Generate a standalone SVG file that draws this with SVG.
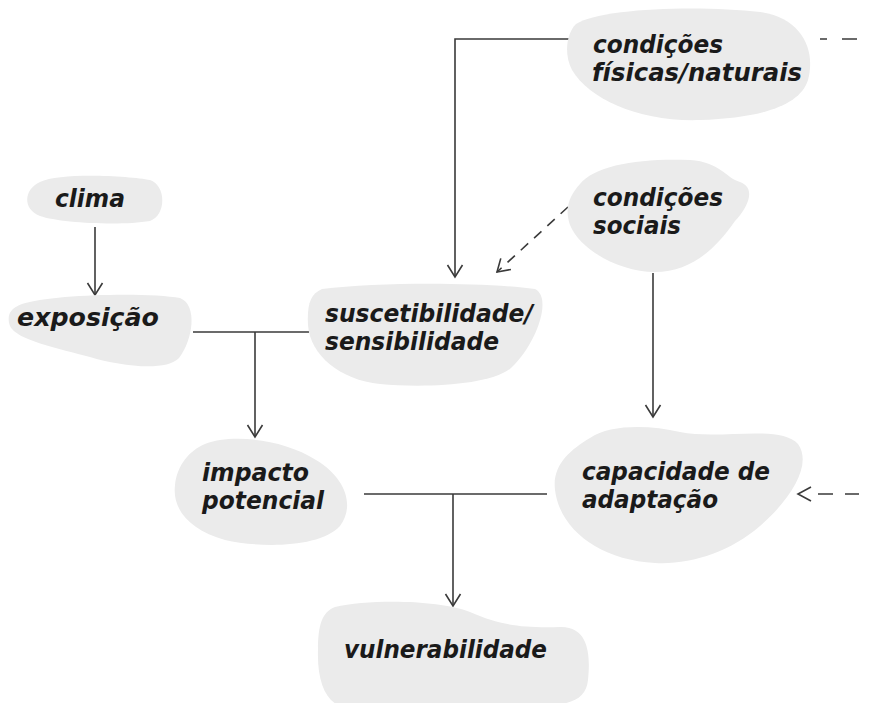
<svg xmlns="http://www.w3.org/2000/svg" width="869" height="703" viewBox="0 0 869 703">
<defs>
<style>
.blob{fill:#ebebeb;stroke:none}
.lbl{font-family:"DejaVu Sans","Verdana",sans-serif;font-weight:bold;font-style:italic;font-size:24.5px;fill:#1a1a1a}
.ln{fill:none;stroke:#3a3a3a;stroke-width:1.6}
.dash{stroke-dasharray:10 8}
.head{fill:none;stroke:#3a3a3a;stroke-width:1.6;stroke-dasharray:none}
</style>
<marker id="arr" markerUnits="userSpaceOnUse" markerWidth="30" markerHeight="30" refX="0" refY="0" viewBox="-15 -15 30 30" orient="auto">
<path class="head" d="M-12,-7.5 L0,0 L-12,7.5"/>
</marker>
</defs>
<rect width="869" height="703" fill="#ffffff"/>

<g id="connectors">
<line class="ln" x1="95" y1="227" x2="95" y2="295" marker-end="url(#arr)"/>
<line class="ln" x1="193" y1="332" x2="309" y2="332"/>
<line class="ln" x1="255" y1="332" x2="255" y2="437" marker-end="url(#arr)"/>
<polyline class="ln" points="569,39 455,39 455,277" marker-end="url(#arr)"/>
<line class="ln dash" x1="568" y1="207" x2="497" y2="272" marker-end="url(#arr)"/>
<path class="ln" d="M820,39 H827 M842,39 H857"/>
<line class="ln" x1="653" y1="273" x2="653" y2="417" marker-end="url(#arr)"/>
<line class="ln" x1="364" y1="494" x2="547" y2="494"/>
<line class="ln" x1="453" y1="494" x2="453" y2="606" marker-end="url(#arr)"/>
<path class="ln" d="M859,494 H845 M833,494 H818"/>
<path class="head" d="M811,487 L798,494 L811,501"/>
</g>

<g id="clima">
<path class="blob" d="M40,182 C60,172 130,176 150,180 C166,185 167,215 150,221 C120,226 60,223 40,216 C22,209 24,189 40,182 Z"/>
<text class="lbl" x="55" y="207" textLength="70" lengthAdjust="spacingAndGlyphs">clima</text>
</g>

<g id="exposicao">
<path class="blob" d="M22,304 C50,294 150,292 180,298 C198,305 193,340 179,358 C166,372 120,366 90,357 C60,349 16,340 10,326 C6,313 12,308 22,304 Z"/>
<text class="lbl" x="17" y="326" textLength="142" lengthAdjust="spacingAndGlyphs">exposição</text>
</g>

<g id="suscetibilidade">
<path class="blob" d="M322,289 C380,282 480,282 535,289 C553,298 536,345 511,368 C490,386 420,388 380,384 C340,380 310,355 308,325 C307,305 310,294 322,289 Z"/>
<text class="lbl" x="325" y="322" textLength="208" lengthAdjust="spacingAndGlyphs">suscetibilidade/</text>
<text class="lbl" x="325" y="350" textLength="174" lengthAdjust="spacingAndGlyphs">sensibilidade</text>
</g>

<g id="condicoes-fisicas">
<path class="blob" d="M576,24 C600,8 700,5 760,12 C802,18 816,50 808,80 C800,106 760,118 700,120 C640,122 590,100 572,70 C564,55 566,34 576,24 Z"/>
<text class="lbl" x="593" y="53" textLength="130" lengthAdjust="spacingAndGlyphs">condições</text>
<text class="lbl" x="592" y="81" textLength="210" lengthAdjust="spacingAndGlyphs">físicas/naturais</text>
</g>

<g id="condicoes-sociais">
<path class="blob" d="M580,184 C595,165 640,158 690,160 C720,162 726,178 740,182 C756,188 749,206 735,221 C715,250 690,272 655,272 C620,272 580,250 570,225 C564,208 570,195 580,184 Z"/>
<text class="lbl" x="593" y="206" textLength="130" lengthAdjust="spacingAndGlyphs">condições</text>
<text class="lbl" x="593" y="234" textLength="88" lengthAdjust="spacingAndGlyphs">sociais</text>
</g>

<g id="impacto">
<path class="blob" d="M205,444 C230,434 282,438 316,460 C346,478 355,506 340,526 C320,548 260,548 225,540 C190,530 172,510 175,485 C177,465 190,450 205,444 Z"/>
<text class="lbl" x="202" y="481" textLength="107" lengthAdjust="spacingAndGlyphs">impacto</text>
<text class="lbl" x="202" y="509" textLength="122" lengthAdjust="spacingAndGlyphs">potencial</text>
</g>

<g id="capacidade">
<path class="blob" d="M590,438 C610,424 650,425 680,432 C720,440 780,424 798,444 C813,465 790,500 760,526 C730,552 690,565 655,563 C600,560 560,530 555,490 C552,465 570,450 590,438 Z"/>
<text class="lbl" x="582" y="480" textLength="188" lengthAdjust="spacingAndGlyphs">capacidade de</text>
<text class="lbl" x="582" y="508" textLength="136" lengthAdjust="spacingAndGlyphs">adaptação</text>
</g>

<g id="vulnerabilidade">
<path class="blob" d="M335,607 C370,599 440,600 470,612 C500,625 520,628 560,627 C591,626 590,660 588,680 C586,700 570,705 540,706 L340,706 C325,700 317,680 318,650 C318,625 322,612 335,607 Z"/>
<text class="lbl" x="344" y="658" textLength="203" lengthAdjust="spacingAndGlyphs">vulnerabilidade</text>
</g>
</svg>
